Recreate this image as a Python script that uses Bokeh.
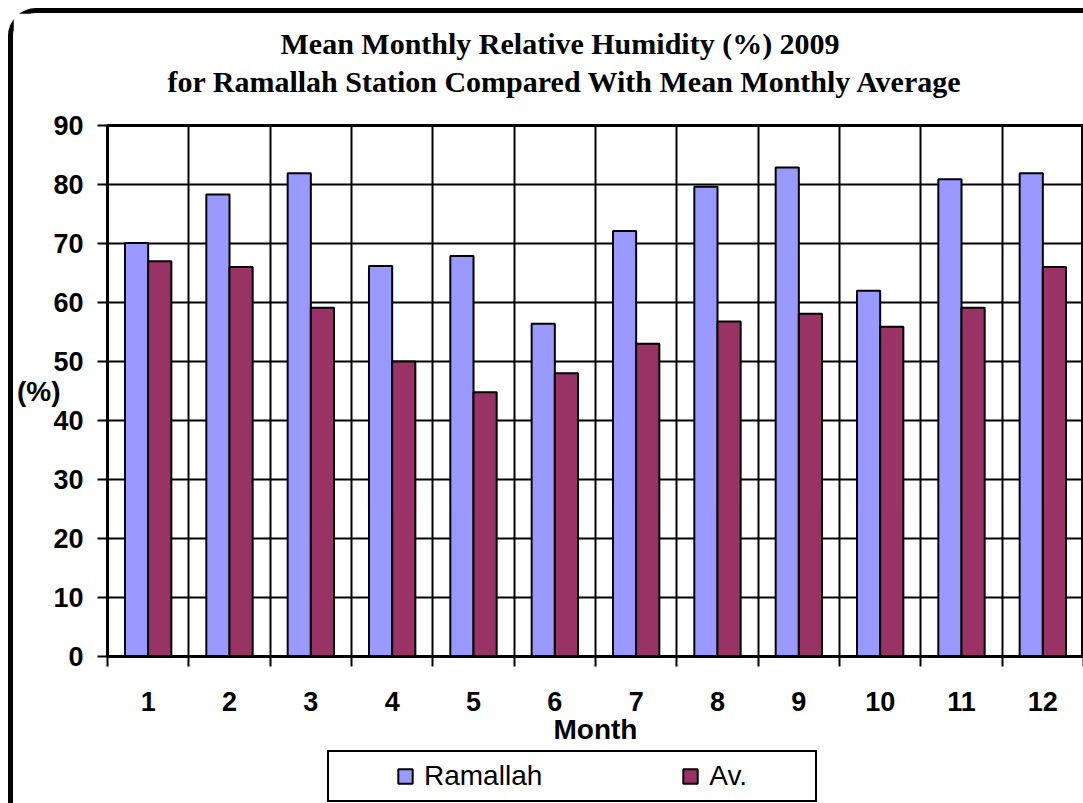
from bokeh.plotting import figure
from bokeh.layouts import column
from bokeh.models import FixedTicker, Title, Legend, LegendItem, ColumnDataSource, Range1d
from bokeh.transform import dodge
from bokeh.embed import file_html
from bokeh.resources import INLINE

# ---- data ----
months = [1, 2, 3, 4, 5, 6, 7, 8, 9, 10, 11, 12]
ramallah = [70.1, 78.3, 81.9, 66.2, 67.9, 56.4, 72.1, 79.6, 82.9, 62.0, 80.9, 81.9]
average = [67.0, 66.0, 59.1, 50.0, 44.8, 48.0, 53.0, 56.8, 58.1, 55.9, 59.1, 66.0]
y_ticks = [0, 10, 20, 30, 40, 50, 60, 70, 80, 90]
title_line1 = "Mean Monthly Relative Humidity (%) 2009"
title_line2 = "for Ramallah Station Compared With Mean Monthly Average"
series_names = ["Ramallah", "Av."]
colors = ["#9999FF", "#993366"]

src = ColumnDataSource(dict(month=months, ramallah=ramallah, average=average))

W, H = 1070, 737
p = figure(width=W, height=H, frame_width=976, frame_height=531,
           output_backend="svg", toolbar_location=None,
           x_range=(0.5, 12.5), y_range=(0, 90))
p.min_border_left = 94
p.min_border_right = 0
p.min_border_top = 112
p.min_border_bottom = 94
p.background_fill_color = "white"
p.border_fill_color = "white"
p.outline_line_color = "black"
p.outline_line_width = 3

r1 = p.vbar(x=dodge("month", -0.1425, range=p.x_range), top="ramallah", width=0.285,
            source=src, fill_color=colors[0], line_color="black", line_width=2)
r2 = p.vbar(x=dodge("month", 0.1425, range=p.x_range), top="average", width=0.285,
            source=src, fill_color=colors[1], line_color="black", line_width=2)

# grids
bounds = [m - 0.5 for m in months] + [months[-1] + 0.5]
p.xgrid.ticker = FixedTicker(ticks=bounds)
p.xgrid.grid_line_color = "black"
p.xgrid.grid_line_width = 2
p.ygrid.ticker = FixedTicker(ticks=y_ticks)
p.ygrid.grid_line_color = "black"
p.ygrid.grid_line_width = 2
p.grid.level = "underlay"

# x axis
p.xaxis.ticker = FixedTicker(ticks=months, minor_ticks=bounds)
p.xaxis.major_tick_out = 0
p.xaxis.major_tick_in = 0
p.xaxis.minor_tick_out = 10
p.xaxis.minor_tick_in = 0
p.xaxis.minor_tick_line_color = "black"
p.xaxis.minor_tick_line_width = 2
p.xaxis.axis_line_width = 3
p.xaxis.axis_line_color = "black"
p.xaxis.major_label_text_font = "Liberation Sans"
p.xaxis.major_label_text_font_style = "bold"
p.xaxis.major_label_text_font_size = "27px"
p.xaxis.major_label_text_color = "black"
p.xaxis.major_label_standoff = 25
p.xaxis.axis_label = "Month"
p.xaxis.axis_label_text_font = "Liberation Sans"
p.xaxis.axis_label_text_font_style = "bold"
p.xaxis.axis_label_text_font_size = "28px"
p.xaxis.axis_label_text_color = "black"
p.xaxis.axis_label_standoff = 0

# y axis
p.yaxis.ticker = FixedTicker(ticks=y_ticks)
p.yaxis.major_tick_out = 10
p.yaxis.major_tick_in = 0
p.yaxis.major_tick_line_width = 2
p.yaxis.minor_tick_line_color = None
p.yaxis.axis_line_width = 3
p.yaxis.axis_line_color = "black"
p.yaxis.major_label_text_font = "Liberation Sans"
p.yaxis.major_label_text_font_style = "bold"
p.yaxis.major_label_text_font_size = "27px"
p.yaxis.major_label_text_color = "black"
p.yaxis.major_label_standoff = 14
p.yaxis.axis_label = "(%)"
p.yaxis.axis_label_orientation = "horizontal"
p.yaxis.axis_label_text_font = "Liberation Sans"
p.yaxis.axis_label_text_font_style = "bold"
p.yaxis.axis_label_text_font_size = "28px"
p.yaxis.axis_label_text_color = "black"
p.yaxis.axis_label_standoff = -10

# titles: spacer nearest the frame, then line 2, then line 1
spacer = Title(text=" ", text_font_size="1px", standoff=25)
t2 = Title(text=title_line2, align="left", offset=60, standoff=0,
           text_font="Liberation Serif", text_font_style="bold",
           text_font_size="30px", text_color="black")
t1 = Title(text=title_line1, align="left", offset=173, standoff=6,
           text_font="Liberation Serif", text_font_style="bold",
           text_font_size="30px", text_color="black")
p.add_layout(spacer, "above")
p.add_layout(t2, "above")
p.add_layout(t1, "above")

# legend strip below the chart
pl = figure(width=W, height=53, output_backend="svg", toolbar_location=None,
            x_range=Range1d(0, 1), y_range=Range1d(0, 1),
            x_axis_type=None, y_axis_type=None,
            min_border_left=0, min_border_right=0, min_border_top=0, min_border_bottom=0)
pl.outline_line_color = None
pl.grid.visible = False
pl.background_fill_color = "white"
pl.border_fill_color = "white"
# legend keys: same series, hidden in the strip (only their swatches are shown)
k1 = pl.vbar(x="month", top="ramallah", width=0.285, source=src,
             fill_color=colors[0], line_color="black", line_width=2, visible=False)
k2 = pl.vbar(x="month", top="average", width=0.285, source=src,
             fill_color=colors[1], line_color="black", line_width=2, visible=False)

legend = Legend(items=[LegendItem(label=series_names[0], renderers=[k1]),
                       LegendItem(label=series_names[1], renderers=[k2])],
                orientation="horizontal", location=(220, 1),
                title=" ", title_location="left", title_standoff=50,
                title_text_font_size="8px",
                border_line_color="black", border_line_width=2, border_line_alpha=1.0,
                background_fill_color="white", padding=8, margin=0,
                inactive_fill_alpha=0.0,
                glyph_width=18, glyph_height=18, label_standoff=10,
                label_width=98, spacing=139,
                label_text_font="Liberation Sans", label_text_font_size="28px",
                label_text_color="black")
pl.add_layout(legend, "center")

layout = column(p, pl, spacing=0,
                styles={"margin-left": "8px", "margin-top": "8px",
                        "border-top": "5px solid black", "border-left": "5px solid black",
                        "border-top-left-radius": "28px"})

open("out.html", "w").write(file_html(layout, INLINE))
